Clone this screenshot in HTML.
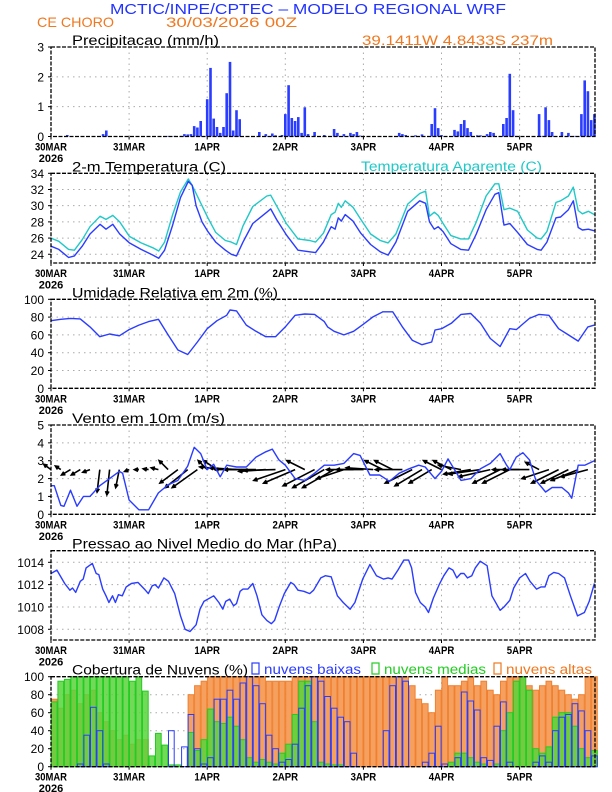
<!DOCTYPE html>
<html><head><meta charset="utf-8"><style>
html,body{margin:0;padding:0;background:#fff;}
svg{display:block;font-family:"Liberation Sans",sans-serif;}
</style></head><body>
<svg id="chart" width="612" height="792" viewBox="0 0 612 792" xmlns="http://www.w3.org/2000/svg">
<rect x="0" y="0" width="612" height="792" fill="#fff"/>
<text x="110" y="14" font-size="15" fill="#2233ff" textLength="396" lengthAdjust="spacingAndGlyphs">MCTIC/INPE/CPTEC – MODELO REGIONAL WRF</text>
<text x="37" y="27" font-size="14" fill="#f07820" textLength="77" lengthAdjust="spacingAndGlyphs">CE CHORO</text>
<text x="166" y="27" font-size="14" fill="#f07820" textLength="131" lengthAdjust="spacingAndGlyphs">30/03/2026 00Z</text>
<text x="362" y="45" font-size="14" fill="#f07820" textLength="191" lengthAdjust="spacingAndGlyphs">39.1411W 4.8433S 237m</text>
<g id="layer"></g>
</svg>
<script>
// ---------- data ----------
const days = ["30MAR","31MAR","1APR","2APR","3APR","4APR","5APR"];
const precipHours = [5,16,17,36,38,40,41,42,43,44,45,46,48,49,50,51,52,53,54,55,56,57,58,64,66,68,69,71,72,73,74,75,76,77,78,79,81,84,87,88,90,92,93,94,95,107,108,109,112,114,117,118,119,120,124,125,126,127,128,129,131,132,134,135,136,139,140,141,142,143,150,151,152,153,154,157,159,161,163,164,165,166,167];
const precipVals = [0.05,0.08,0.2,0.02,0.02,0.02,0.08,0.07,0.08,0.35,0.3,0.52,1.25,2.3,0.6,0.32,0.12,0.32,1.45,2.5,0.2,0.88,0.58,0.15,0.08,0.1,0.04,0.05,0.75,1.72,0.62,0.52,0.65,0.12,0.98,0.08,0.15,0.05,0.25,0.12,0.08,0.12,0.08,0.15,0.03,0.12,0.08,0.05,0.04,0.07,0.42,0.95,0.28,0.05,0.22,0.17,0.42,0.55,0.28,0.15,0.04,0.04,0.08,0.15,0.12,0.42,0.62,2.1,0.88,0.02,0.75,0.02,0.98,0.55,0.15,0.15,0.12,0.02,0.75,1.88,1.52,0.55,0.75];

const tempHours = [0,2.4,5.4,7.2,9.6,12,15.1,16.9,19,21.1,24.1,27.7,31.3,33.1,34.9,37.3,39.8,42.2,43.4,44.6,46.4,48.2,50.6,53.6,55.4,57,59,62,66.3,67.5,69.3,72.3,75.9,79.5,81.3,83.7,86.1,87.3,88.3,89.2,90.4,92.8,95.2,98.2,101.2,103.6,106,109.6,113.3,115.1,116.3,117.8,119,120.5,122.9,125.9,128.3,130.7,133.7,136.4,137.6,139.2,141,143.4,146.4,149.4,150.6,152.4,155.2,156.6,159,160.5,162,163.3,165.1,167];
const temp2m = [25.0,24.6,23.6,23.8,25.0,26.5,27.7,27.1,27.7,26.5,25.4,24.6,23.9,23.5,24.5,27.5,31.0,33.0,32.5,30.0,28.0,26.8,25.5,24.5,24.0,23.8,25.5,27.8,29.2,29.6,28.3,26.4,24.5,24.3,24.2,25.5,27.4,27.1,28.5,28.1,28.9,28.1,26.6,25.2,24.3,23.9,25.5,29.3,30.6,30.3,28.0,27.1,27.4,26.8,25.3,24.6,24.5,26.5,29.5,31.4,31.6,27.6,27.8,26.7,25.2,24.6,24.5,25.5,28.5,28.6,29.5,30.6,27.3,27.0,27.1,26.9];
const tempApparent = [26.0,25.6,24.6,24.5,25.8,27.4,28.7,28.3,28.8,28.0,26.2,25.4,24.8,24.4,25.5,28.8,31.7,33.3,32.5,31.5,30.0,28.5,26.7,25.7,25.5,25.2,27.5,29.9,31.2,31.3,30.0,27.8,25.9,25.7,25.5,26.6,28.9,29.2,30.3,29.8,30.6,29.8,28.3,26.5,25.7,25.4,26.5,30.2,31.5,31.8,28.7,29.2,28.8,27.8,26.3,25.9,25.9,28.0,31.2,32.7,32.7,29.5,29.7,29.3,27.0,26.0,25.9,26.8,30.4,30.6,31.2,32.3,29.4,29.0,29.3,28.9];

const rhHours = [0,3,6,9,12,15,18,21,24,27,30,33,36,39,42,45,48,51,54,55,57,60,63,66,69,72,75,78,81,84,85,87,90,93,96,99,102,105,108,111,114,117,118,120,123,126,129,132,135,138,141,143,147,150,153,156,159,162,165,167];
const rhVals = [76,77.5,78.5,78,69,58,61,59,66,71,75,77.5,60,43,38,52,67,76,82,88,87,71,64,58,58,69,82,83.5,83,75,69,64,60,64,72,80.5,86,86,69,54,49,52,65.5,67,73,83,84,73,56,47,67,66,78.5,83,82,67,60,53,69,71];

const wsHours = [0,1,3,4,6,8,10,12,15,18,21,22,24,27,30,33,36,39,42,44,46,48,50,52,54,57,60,63,66,68,70,72,75,78,81,84,87,90,93,95,98,101,104,107,110,113,115,118,120,122,124,126,129,132,135,138,140,141,143,145,147,149,152,154,157,159,160,162,164,167];
const wsVals = [1.6,1.6,0.5,0.45,1.35,0.45,1.0,1.0,1.6,2.0,2.4,2.3,0.8,0.25,0.25,1.2,1.65,1.9,2.7,3.75,3.4,2.5,2.8,2.1,2.75,2.65,2.65,3.2,3.5,3.65,3.05,2.75,2.0,1.9,2.3,2.75,2.75,2.85,3.4,3.3,2.2,2.2,1.85,2.3,2.55,2.75,2.65,2.0,2.4,3.1,2.5,1.9,2.0,2.55,2.85,3.4,2.75,2.5,3.2,3.45,3.05,1.9,1.25,1.5,1.5,1.2,0.9,2.75,2.75,3.0];

const vecHours = [0,3,6,9,12,15,18,21,24,27,30,33,36,39,42,45,48,51,54,57,60,63,66,69,72,75,78,81,84,87,90,93,96,99,102,105,108,111,114,117,120,123,126,129,132,135,138,141,144,147,150,153,156,159,162,165];
const vecU = [-0.8,-0.6,-1,-1,-0.8,-0.3,-0.3,-0.4,-0.5,-0.5,-0.6,-0.8,-1,-2,-2.5,-2.8,-1,-1.5,-3,-3,-3.5,-3.5,-3,-3.5,-3.5,-3.5,-2,-3.5,-3.5,-3.5,-3,-3,-3,-3,-2,-2,-3,-3,-3,-2.5,-2,-2,-2.5,-3,-3.5,-3.5,-3,-3,-3,-3,-1.5,-3,-3,-3,-3,-3];
const vecV = [0.6,0.4,-0.6,-0.6,-0.3,-2.5,-2.8,-2,-0.2,0,0.1,0.2,1,-1.5,-2,-2,1,1,0.3,0.2,0,0,-0.2,-0.1,-1.2,-1.5,1,-1.8,-2,-2,-1,0,0,0.2,1,1,0,-1.5,-1.8,-1.5,1,1,0.5,-0.5,-0.5,-0.8,-1.5,-1.5,0,0,0.8,-1,-1.5,-1.5,-1.2,-0.8];

const presHours = [0,1.8,4.2,5.8,6.6,7.6,9,9.9,10.8,12.7,13.9,14.7,15.9,16.9,17.8,18.9,19.8,20.7,21.9,23.1,24.7,26.7,28.7,29.9,31.1,32,33,34.7,36.1,38,39.8,41.2,42.7,44.6,45.8,47,50,51.6,52.8,53.7,54.9,56.1,57,58.1,59,60.5,62,63.3,64.8,66.3,67.7,68.7,70.1,71.7,73.7,74.7,75.9,77.7,79.5,80.7,82.9,84.3,86.1,88,89.8,91.9,93.4,95.8,98,100,102.2,103.6,104.8,106.6,108.4,109.9,110.8,112,113.5,115,116,117.5,119.3,120.7,122.3,123.5,124.7,125.9,126.9,128,129.3,130.4,131.9,134,135.5,138,139.2,141,142.2,144,145.8,147.2,149.2,150.6,151.8,153,154.5,156,157.8,159.6,161.8,163.9,165.4,167];
const presVals = [1013.0,1013.3,1012.1,1011.5,1011.7,1011.3,1012.3,1012.5,1013.5,1013.9,1013.0,1012.9,1011.6,1011.0,1010.4,1011.0,1010.4,1011.1,1011.0,1011.8,1012.1,1012.2,1011.6,1011.2,1011.9,1012.0,1011.7,1012.6,1012.3,1011.2,1009.2,1008.0,1007.8,1008.4,1009.8,1010.5,1011.0,1010.4,1009.8,1010.5,1010.7,1010.1,1010.3,1011.4,1011.6,1011.6,1012.1,1011.0,1009.3,1008.8,1008.5,1008.8,1010.0,1011.2,1012.2,1012.0,1011.5,1011.4,1011.2,1011.5,1012.6,1012.8,1012.7,1011.0,1010.4,1009.8,1010.4,1012.5,1013.8,1012.8,1012.5,1012.6,1012.5,1013.3,1014.2,1014.2,1013.5,1011.3,1010.4,1010.0,1009.5,1010.8,1012.0,1012.8,1013.5,1013.3,1012.6,1013.0,1013.0,1012.6,1012.8,1013.5,1014.1,1013.7,1011.0,1009.7,1010.0,1010.6,1011.7,1012.6,1013.0,1012.3,1011.6,1011.8,1011.8,1012.8,1013.1,1013.0,1012.6,1011.0,1009.2,1009.5,1010.5,1012.1];

// cloud cover every 2 hours
const cloudLow = [0,0,0,0,3,35,66,40,3,0,0,0,0,0,0,0,0,0,40,0,22,58,20,3,10,75,75,85,75,93,100,90,70,35,20,5,8,25,65,90,100,95,78,65,55,50,15,0,0,0,0,40,90,100,95,0,0,5,15,45,3,0,10,83,73,63,10,7,45,72,5,0,0,0,5,12,5,40,55,58,70,62,40,12];
const cloudMid = [72,95,97,100,100,100,100,100,100,100,100,100,95,100,84,12,37,24,2,2,0,38,18,30,64,50,48,55,45,30,10,5,8,5,3,15,25,58,95,95,50,5,3,2,2,0,0,0,0,0,0,0,0,0,0,0,0,0,0,0,0,5,15,15,10,5,3,0,3,40,60,95,100,85,20,15,22,55,60,60,45,20,10,18];
const cloudHigh = [75,65,80,85,70,80,85,60,50,40,30,35,25,30,30,0,0,0,0,0,0,80,90,95,100,100,100,100,100,100,100,100,100,95,95,95,95,100,100,100,100,100,100,100,100,100,100,100,100,100,100,100,100,100,100,90,75,70,60,85,100,90,90,95,100,90,95,85,80,95,100,100,100,90,85,90,95,90,85,80,75,80,100,100];

// ---------- layout ----------
const NS = "http://www.w3.org/2000/svg";
const layer = document.getElementById('layer');
const X0 = 51, HOURPX = 78.1/24, XR = 595;
function xh(h){ return X0 + h*HOURPX; }
function mk(tag, attrs, parent){ const e=document.createElementNS(NS,tag); for(const k in attrs) e.setAttribute(k,attrs[k]); (parent||layer).appendChild(e); return e; }

function panel(p){
  const g = mk('g',{});
  
  
  p.y = v => p.bottom - (v - p.min)/(p.max - p.min)*(p.bottom - p.top);
  for(let d=1; d<7; d++){
    const gl = mk('line',{x1:xh(d*24),x2:xh(d*24),y1:p.top,y2:p.bottom,stroke:'#aaa','stroke-width':1,'stroke-dasharray':'1.5,4'},g);
    
    
  }
  p.ticks.forEach(t=>{
    const yy = p.y(t);
    if (yy > p.top+1 && yy < p.bottom-1){
      const gl = mk('line',{x1:X0,x2:XR,y1:yy,y2:yy,stroke:'#aaa','stroke-width':1,'stroke-dasharray':'1.5,4'},g);
      
      
    }
    const tk = mk('line',{x1:X0-3,x2:X0,y1:yy,y2:yy,stroke:'#000','stroke-width':1},g);
    
    
    const tl = mk('text',{x:X0-7,y:yy+4.5,'font-size':12,'text-anchor':'end',fill:'#000'},g);
    tl.textContent = t;
    
    
  });
  days.forEach((d,i)=>{
    const xx = xh(i*24);
    const tk = mk('line',{x1:xx,x2:xx,y1:p.bottom,y2:p.bottom+3,stroke:'#000','stroke-width':1},g);
    
    
    const tl = mk('text',{x:xx,y:p.bottom+14,'font-size':11,'font-weight':'bold','text-anchor':'middle',fill:'#000',textLength:d.length*6.4,lengthAdjust:'spacingAndGlyphs'},g);
    tl.textContent = d;
    
    
  });
  const yr = mk('text',{x:X0,y:p.bottom+25.5,'font-size':11,'font-weight':'bold','text-anchor':'middle',fill:'#000'},g);
  yr.textContent = '2026';
  
  
  const tt = mk('text',{x:72,y:p.top-2,'font-size':13.5,fill:'#000',textLength:p.tlen,lengthAdjust:'spacingAndGlyphs'},g);
  tt.textContent = p.title;
  
  
  p.g = mk('g',{},g);
  return p;
}
function frame(p){
  const f = mk('rect',{x:X0,y:p.top,width:XR-X0,height:p.bottom-p.top,fill:'none',stroke:'#000','stroke-width':1.3,'stroke-dasharray':'4,1.5'});
  
  
}
function line(p, hs, vs, color, name){
  let d='';
  const n=Math.min(hs.length, vs.length);
  for(let i=0;i<n;i++) d += (i?'L':'M')+xh(hs[i]).toFixed(1)+','+p.y(vs[i]).toFixed(1);
  const e = mk('path',{d:d,fill:'none',stroke:color,'stroke-width':1.4,'stroke-linejoin':'round'},p.g);
  
  
}

// precip
const P1 = panel({name:'precip',top:47,bottom:136.5,min:0,max:3,ticks:[0,1,2,3],title:'Precipitacao (mm/h)',tlen:147});
for(let i=0;i<Math.min(precipHours.length,precipVals.length);i++){
  const x = xh(precipHours[i]);
  const y = P1.y(precipVals[i]);
  const b = mk('rect',{x:(x-1.3).toFixed(1),y:y.toFixed(1),width:2.6,height:(P1.bottom-y).toFixed(1),fill:'#2a3cff'},P1.g);
  
  
}
frame(P1);

// temperature
const P2 = panel({name:'temperature',top:173.3,bottom:263,min:22.92,max:34,ticks:[24,26,28,30,32,34],title:'2-m Temperatura (C)',tlen:154});
const at = mk('text',{x:361,y:171,'font-size':13.5,fill:'#20c8c8',textLength:181,lengthAdjust:'spacingAndGlyphs'});
at.textContent='Temperatura Aparente (C)';


line(P2, tempHours, tempApparent, '#20c8c8', 'apparent-temperature-line');
line(P2, tempHours, temp2m, '#2a3cff', 'temperature-line');
frame(P2);

// humidity
const P3 = panel({name:'humidity',top:299.3,bottom:388.3,min:0,max:100,ticks:[0,20,40,60,80,100],title:'Umidade Relativa em 2m (%)',tlen:206});
line(P3, rhHours, rhVals, '#2a3cff', 'humidity-line');
frame(P3);

// wind
const P4 = panel({name:'wind',top:425,bottom:514.3,min:0,max:5,ticks:[0,1,2,3,4,5],title:'Vento em 10m (m/s)',tlen:153});
const anchorY = P4.y(2.5);
const VS = 9;
for(let i=0;i<Math.min(vecHours.length,vecU.length,vecV.length);i++){
  const x0 = xh(vecHours[i]);
  const x1 = x0 + vecU[i]*VS, y1 = anchorY - vecV[i]*VS;
  const ang = Math.atan2(y1-anchorY, x1-x0);
  const a1 = ang+Math.PI-0.45, a2 = ang+Math.PI+0.45;
  const d = `M${x0.toFixed(1)},${anchorY.toFixed(1)}L${x1.toFixed(1)},${y1.toFixed(1)}M${(x1+4*Math.cos(a1)).toFixed(1)},${(y1+4*Math.sin(a1)).toFixed(1)}L${x1.toFixed(1)},${y1.toFixed(1)}L${(x1+4*Math.cos(a2)).toFixed(1)},${(y1+4*Math.sin(a2)).toFixed(1)}`;
  const v = mk('path',{d:d,fill:'none',stroke:'#000','stroke-width':1.6},P4.g);
  
  
}
line(P4, wsHours, wsVals, '#2a3cff', 'wind-speed-line');
frame(P4);

// pressure
const P5 = panel({name:'pressure',top:550.7,bottom:640,min:1007.04,max:1015.04,ticks:[1008,1010,1012,1014],title:'Pressao ao Nivel Medio do Mar (hPa)',tlen:265});
line(P5, presHours, presVals, '#2a3cff', 'pressure-line');
frame(P5);

// clouds
const P6 = panel({name:'cloud',top:676.7,bottom:766.7,min:0,max:100,ticks:[0,20,40,60,80,100],title:'Cobertura de Nuvens (%)',tlen:176});
function cloudBars(vals, fill, stroke, name){
  for(let i=0;i<vals.length;i++){
    if(vals[i]<=0) continue;
    const x = xh(i*2);
    const y = P6.y(vals[i]);
    const r = mk('rect',{x:(x+0.4).toFixed(1),y:y.toFixed(1),width:(2*HOURPX-0.8).toFixed(1),height:(P6.bottom-y).toFixed(1),fill:fill,stroke:stroke,'stroke-width':1},P6.g);
    
    
  }
}
cloudBars(cloudHigh, '#f6a060', '#f08030', 'high-cloud-bar');
cloudBars(cloudMid, 'rgba(90,210,60,0.85)', '#22cc22', 'mid-cloud-bar');
cloudBars(cloudLow, 'none', '#2a3cff', 'low-cloud-bar');
frame(P6);
const legend = [[252,'#2a3cff','nuvens baixas',97],[372,'#22cc22','nuvens medias',102],[494,'#f07820','nuvens altas',86]];
legend.forEach(l=>{
  const b = mk('rect',{x:l[0],y:663,width:7,height:11,fill:'none',stroke:l[1],'stroke-width':1.2});
  
  
  const t = mk('text',{x:l[0]+12,y:674,'font-size':13.5,fill:l[1],textLength:l[3],lengthAdjust:'spacingAndGlyphs'});
  t.textContent = l[2];
  
  
});
</script>
</body></html>
